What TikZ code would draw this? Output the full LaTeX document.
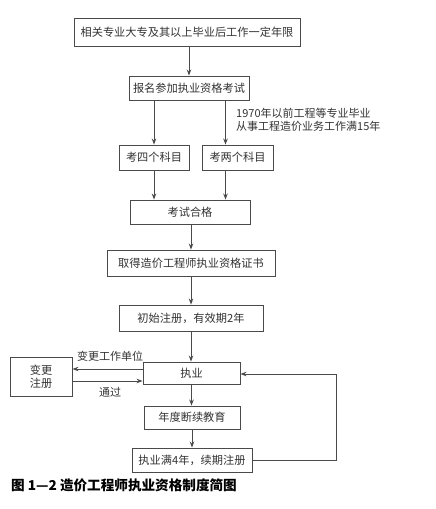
\documentclass[tikz,border=0pt]{standalone}
\usepackage{fontspec}
\setmainfont{Noto Sans CJK SC}
\newfontfamily\cjk{Noto Sans CJK SC}
\usetikzlibrary{arrows.meta,calc}
\definecolor{ln}{HTML}{4A4A4A}
\definecolor{tx}{HTML}{333333}
\tikzset{
  boxn/.style={draw=ln,line width=0.9pt,inner sep=0pt,text=tx,font=\cjk\fontsize{11.2}{12}\selectfont,align=center},
  arr/.style={draw=ln,line width=0.9pt,-{Stealth[length=6pt,width=4.5pt]}},
  lab/.style={text=tx,font=\cjk\fontsize{11}{13}\selectfont,inner sep=0pt}
}
\begin{document}
\begin{tikzpicture}[x=1pt,y=-1pt]
\useasboundingbox[fill=white] (0,0) rectangle (436,509);
\node[boxn,minimum width=226pt,minimum height=28pt] (b1) at (187,32) {相关专业大专及其以上毕业后工作一定年限};
\node[boxn,minimum width=120pt,minimum height=24pt] (b2) at (189,88) {报名参加执业资格考试};
\node[boxn,minimum width=70pt,minimum height=25pt] (b3) at (154,157.5) {考四个科目};
\node[boxn,minimum width=71pt,minimum height=25pt] (b4) at (237.5,157.5) {考两个科目};
\node[boxn,minimum width=120pt,minimum height=24pt] (b5) at (190,212) {考试合格};
\node[boxn,minimum width=168pt,minimum height=26pt] (b6) at (191,263) {取得造价工程师执业资格证书};
\node[boxn,minimum width=144pt,minimum height=26pt] (b7) at (191,318) {初始注册，有效期2年};
\node[boxn,minimum width=97pt,minimum height=22pt] (b8) at (191.5,373) {执业};
\node[boxn,minimum width=62pt,minimum height=39pt,font=\cjk\fontsize{11.2}{13.5}\selectfont] (b9) at (41,376.5) {变更\\注册};
\node[boxn,minimum width=96pt,minimum height=23pt] (b10) at (192,417.5) {年度断续教育};
\node[boxn,minimum width=120pt,minimum height=24pt] (b11) at (192,460) {执业满4年，续期注册};

\node[lab,align=left,anchor=west] (n1970) at (236,119.5) {1970年以前工程等专业毕业\\从事工程造价业务工作满15年};
\node[lab] (nchg) at (110,356) {变更工作单位};
\node[lab] (npass) at (110,392) {通过};
\node[text=black,font=\cjk\bfseries\fontsize{13.6}{15}\selectfont,anchor=west,inner sep=0pt] (cap) at (11,485) {图 1—2 造价工程师执业资格制度简图};

\draw[arr] (b1.south -| b2.north) -- (b2.north);
\draw[arr] (b2.south -| b3.north) -- (b3.north);
\coordinate (p4) at ($(b4.north)+(-12,0)$);
\draw[arr] (b2.south -| p4) -- (p4);
\draw[arr] (b3.south) -- (b3.south |- b5.north);
\draw[arr] (p4 |- b4.south) -- (p4 |- b5.north);
\draw[arr] (b5.south -| b6.north) -- (b6.north);
\draw[arr] (b6.south) -- (b7.north);
\draw[arr] (b7.south) -- (b7.south |- b8.north);
\draw[arr] (b8.south) -- (b8.south |- b10.north);
\draw[arr] (b10.south) -- (b10.south |- b11.north);
\coordinate (q1) at ([yshift=4pt]b8.west);
\coordinate (q2) at ([yshift=-8pt]b8.west);
\draw[arr] (q1) -- (q1 -| b9.east);
\draw[arr] (q2 -| b9.east) -- (q2);
\coordinate (r) at (336,0);
\draw[arr] (b11.east) -- (b11.east -| r) |- ([yshift=-1pt]b8.east);
\end{tikzpicture}
\end{document}
